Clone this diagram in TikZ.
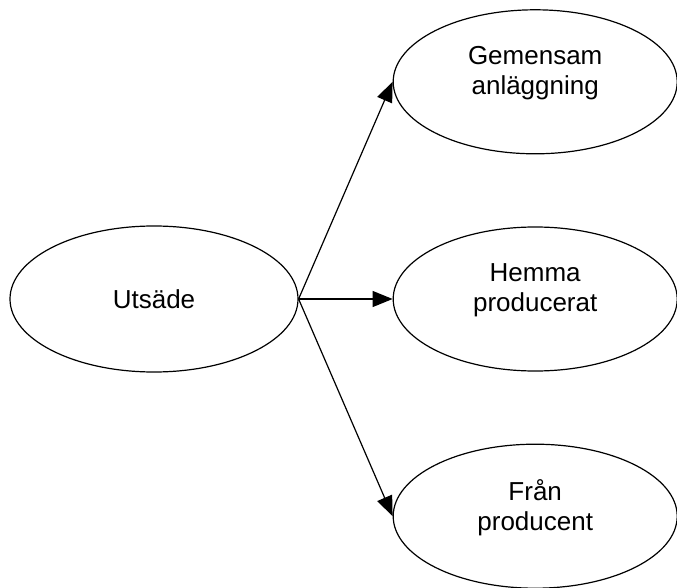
\documentclass[tikz,border=0pt]{standalone}
\usepackage{fontspec}
\setmainfont{Liberation Sans}
\usetikzlibrary{positioning,shapes.geometric,arrows.meta}
\tikzset{>={Triangle[length=20pt,width=16pt]}}

\begin{document}
\begin{tikzpicture}[
    x=1pt, y=-1pt,
    node distance=72pt and 94pt,
    seed/.style={ellipse, draw, line width=1.2pt, inner sep=0pt, minimum width=288pt, minimum height=146pt, align=center, font=\fontsize{26}{30}\selectfont},
    origin/.style={seed, minimum width=284pt, minimum height=144pt, text depth=23pt}
]
\useasboundingbox (0,0) rectangle (677,588);
\node[seed] (utsade) at (154,299) {Utsäde};
\node[origin, right=of utsade] (hemma) {Hemma\\producerat};
\node[origin, above=of hemma] (gemensam) {Gemensam\\anläggning};
\node[origin, below=of hemma] (fran) {Från\\producent};

\draw[->, line width=1.2pt] (utsade.east) -- (gemensam.west);
\draw[->, line width=1.2pt] (utsade.east) -- (hemma.west);
\draw[->, line width=1.2pt] (utsade.east) -- (fran.west);
\end{tikzpicture}
\end{document}
